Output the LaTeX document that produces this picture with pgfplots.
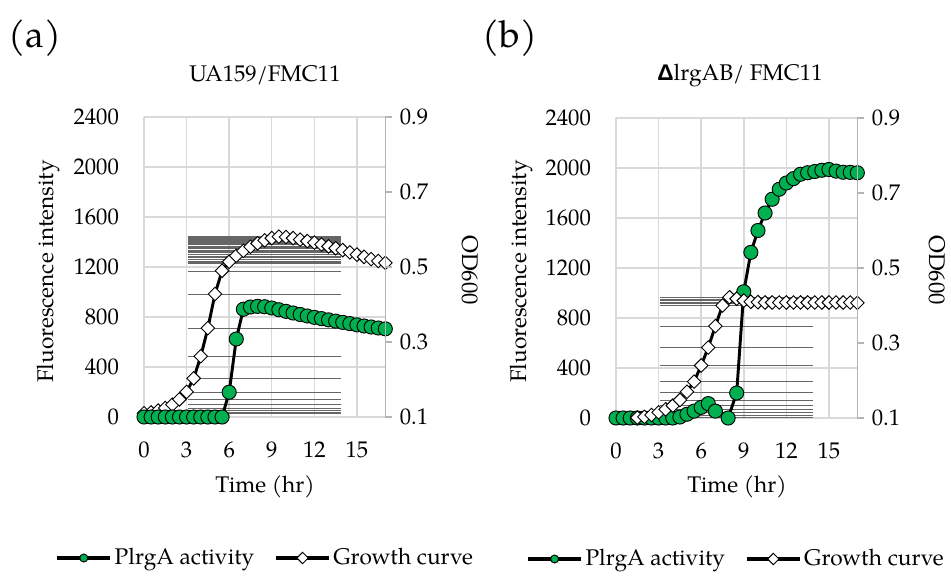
\documentclass[border=0pt]{standalone}
\usepackage{fontspec}
\setmainfont{TeX Gyre Pagella}
\newfontfamily\dfont{Liberation Sans}
\usepackage{pgfplots}
\usepackage{pgfplotstable}
\pgfplotsset{compat=1.18}
\definecolor{exgreen}{RGB}{0,176,80}
\definecolor{gridgray}{RGB}{217,217,217}
\definecolor{axgray}{RGB}{180,180,180}

\pgfplotstableread{
t v
0 0
0.5 0
1 0
1.5 0
2 0
2.5 0
3 0
3.5 0
4 0
4.5 0
5 0
5.5 0
6 198
6.5 624
7 862
7.5 880
8 885
8.5 882
9 872
9.5 858
10 845
10.5 832
11 820
11.5 808
12 797
12.5 787
13 777
13.5 767
14 757
14.5 747
15 737
15.5 728
16 720
16.5 712
17 705
}\greenA

\pgfplotstableread{
t v
0 0.110
0.5 0.112
1 0.117
1.5 0.124
2 0.133
2.5 0.147
3 0.167
3.5 0.203
4 0.262
4.5 0.337
5 0.428
5.5 0.490
6 0.514
6.5 0.530
7 0.543
7.5 0.554
8 0.563
8.5 0.571
9 0.577
9.5 0.581
10 0.580
10.5 0.577
11 0.573
11.5 0.569
12 0.565
12.5 0.560
13 0.555
13.5 0.550
14 0.545
14.5 0.539
15 0.533
15.5 0.527
16 0.521
16.5 0.516
17 0.511
}\growthA

\pgfplotstableread{
t v
0 0
0.5 0
1 0
1.5 0
2 0
2.5 0
3 0
3.5 0
4 0
4.5 8
5 30
5.5 55
6 85
6.5 115
7 55
7.9 0
8.5 200
9 1010
9.5 1325
10 1500
10.5 1640
11 1750
11.5 1830
12 1880
12.5 1915
13 1950
13.5 1962
14 1972
14.5 1982
15 1988
15.5 1975
16 1966
16.5 1965
17 1962
}\greenB

\pgfplotstableread{
t v
1.5 0.101
2 0.103
2.5 0.108
3 0.115
3.5 0.123
4 0.133
4.5 0.148
5 0.170
5.5 0.197
6 0.240
6.5 0.288
7 0.345
7.5 0.400
8 0.422
8.5 0.418
9 0.413
9.5 0.410
10 0.409
10.5 0.408
11 0.408
11.5 0.408
12 0.408
12.5 0.408
13 0.408
13.5 0.408
14 0.408
14.5 0.408
15 0.408
15.5 0.408
16 0.408
16.5 0.408
17 0.407
}\growthB

\pgfplotsset{
  base/.style={scale only axis, width=181pt, height=225pt, xmin=0, xmax=17,
    clip=false, anchor=south west,
    /pgf/number format/assume math mode=true,
    /pgf/number format/1000 sep={}, scaled ticks=false},
  leftax/.style={base, ymin=0, ymax=2400,
    xtick={0,3,...,15}, ytick={0,400,...,2400},
    grid=major, grid style={gridgray, line width=1.1pt},
    axis line style={draw=none}, major tick length=0pt, tick style={draw=none},
    xticklabel style={yshift=-13pt}, yticklabel style={xshift=-13pt},
    legend style={draw=none, fill=none, legend columns=2, inner sep=0pt,
      /tikz/every even column/.append style={column sep=13pt},
      nodes={inner sep=2pt}},
    legend cell align=left,
    legend image code/.code={\draw[mark repeat=2, mark phase=2, ##1, line width=2.4pt, mark size=3pt]
      plot coordinates {(0pt,0pt) (20pt,0pt) (40pt,0pt)};}},
  rightax/.style={base, ymin=0.1, ymax=0.9, ytick={0.1,0.3,0.5,0.7,0.9},
    axis y line*=right, axis x line=none,
    y axis line style={axgray, line width=1.1pt},
    tick style={axgray, line width=1.1pt}, major tick length=5pt, tick align=outside,
    yticklabel style={/pgf/number format/.cd, fixed, fixed zerofill, precision=1}},
  gstyle/.style={black, line width=2.2pt, mark=*, mark size=5.3pt,
    mark options={fill=exgreen, draw=black, line width=0.7pt}},
  dstyle/.style={black, line width=2.2pt, mark=square*, mark size=3.6pt,
    mark options={fill=white, draw=black, line width=0.7pt, rotate=45}},
  ebstyle/.style={draw=none, mark=none, forget plot,
    error bars/.cd, x dir=both, x explicit,
    error bar style={draw=black!60, line width=0.3pt},
    error mark options={draw=black!60, line width=0.3pt, mark size=3pt}}
}

\begin{document}
\fontsize{17}{20}\selectfont
\begin{tikzpicture}
\path[use as bounding box] (0pt,0pt) rectangle (713.25pt,434.25pt);

% ---------- panel (a) ----------
\begin{axis}[leftax, at={(108pt,121.5pt)},
  legend style={at={(1.375,-0.47)}, anchor=east}]
  \addplot[ebstyle] table[x expr=8.5, y expr={(\thisrow{v}-0.1)*3000}, x error expr=5.1] \growthA;
  \addplot[dstyle, forget plot] table[x=t, y expr={(\thisrow{v}-0.1)*3000}] \growthA;
  \addplot[gstyle, forget plot] table[x=t, y=v] \greenA;
  \addlegendimage{gstyle}
  \addlegendentry{PlrgA activity}
  \addlegendimage{dstyle}
  \addlegendentry{Growth curve}
\end{axis}
\begin{axis}[rightax, at={(108pt,121.5pt)}]
  \addplot[draw=none, forget plot] coordinates {(0,0.1)};
\end{axis}

% ---------- panel (b) ----------
\begin{axis}[leftax, at={(462pt,120.75pt)},
  legend style={at={(1.37,-0.47)}, anchor=east}]
  \addplot[ebstyle] table[x expr=8.5, y expr={(\thisrow{v}-0.1)*3000}, x error expr=5.1] \growthB;
  \addplot[gstyle, forget plot] table[x=t, y=v] \greenB;
  \addplot[dstyle, forget plot] table[x=t, y expr={(\thisrow{v}-0.1)*3000}] \growthB;
  \addlegendimage{gstyle}
  \addlegendentry{PlrgA activity}
  \addlegendimage{dstyle}
  \addlegendentry{Growth curve}
\end{axis}
\begin{axis}[rightax, at={(462pt,120.75pt)}]
  \addplot[draw=none, forget plot] coordinates {(0,0.1)};
\end{axis}

% ---------- texts ----------
\node[font=\fontsize{28}{32}\selectfont] at (26.25pt,405.75pt) {(a)};
\node[font=\fontsize{28}{32}\selectfont] at (382.5pt,405.75pt) {(b)};
\node at (198.75pt,378pt) {UA159/FMC11};
\node at (555pt,378pt) {{\dfont\bfseries Δ}lrgAB/ FMC11};
\node[rotate=90] at (36pt,230.6pt) {Fluorescence intensity};
\node[rotate=90] at (390.75pt,230.6pt) {Fluorescence intensity};
\node[rotate=-90] at (352.5pt,231.75pt) {OD600};
\node[rotate=-90] at (702.75pt,231.75pt) {OD600};
\node at (198.75pt,69pt) {Time (hr)};
\node at (552.75pt,69pt) {Time (hr)};
\end{tikzpicture}
\end{document}
